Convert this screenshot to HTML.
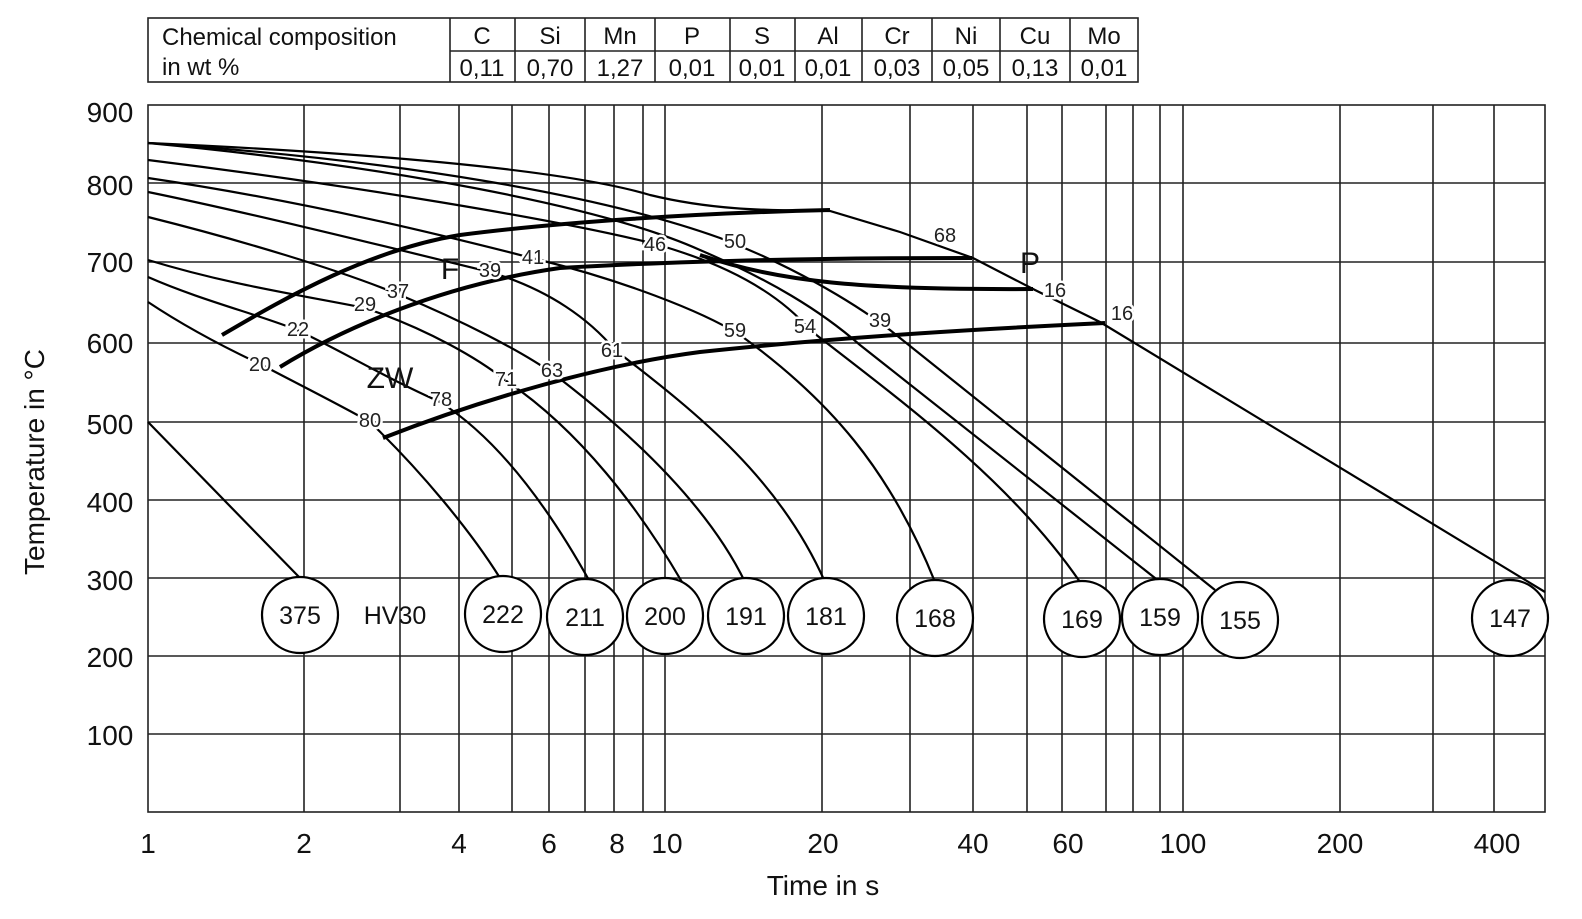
<!DOCTYPE html>
<html><head><meta charset="utf-8"><style>
html,body{margin:0;padding:0;background:#fff;}
svg{display:block;font-family:"Liberation Sans",Arial,sans-serif;}
.g{stroke:#222;stroke-width:1.6;fill:none}
.c{stroke:#000;stroke-width:2.2;fill:none}
.t{stroke:#000;stroke-width:4;fill:none}
.n{font-size:20px;fill:#222;paint-order:stroke;stroke:#fff;stroke-width:5px;text-anchor:middle}
.k{font-size:28px;fill:#111;text-anchor:middle}
.h{font-size:25px;fill:#111;text-anchor:middle}
</style></head><body>
<svg width="1582" height="919" viewBox="0 0 1582 919">
<!-- table -->
<g stroke="#222" stroke-width="1.6" fill="none">
<rect x="148" y="18" width="990" height="64"/>
<line x1="450" y1="51" x2="1138" y2="51"/>
<line x1="450" y1="18" x2="450" y2="82"/><line x1="515" y1="18" x2="515" y2="82"/><line x1="585" y1="18" x2="585" y2="82"/><line x1="655" y1="18" x2="655" y2="82"/><line x1="730" y1="18" x2="730" y2="82"/><line x1="795" y1="18" x2="795" y2="82"/><line x1="862" y1="18" x2="862" y2="82"/><line x1="932" y1="18" x2="932" y2="82"/><line x1="1000" y1="18" x2="1000" y2="82"/><line x1="1070" y1="18" x2="1070" y2="82"/>
</g>
<g font-size="24" fill="#111">
<text x="162" y="45">Chemical composition</text><text x="162" y="75">in wt %</text>
</g>
<g font-size="24" fill="#111" text-anchor="middle">
<text x="482" y="44">C</text><text x="550" y="44">Si</text><text x="620" y="44">Mn</text><text x="692" y="44">P</text><text x="762" y="44">S</text><text x="828" y="44">Al</text><text x="897" y="44">Cr</text><text x="966" y="44">Ni</text><text x="1035" y="44">Cu</text><text x="1104" y="44">Mo</text>
<text x="482" y="76">0,11</text><text x="550" y="76">0,70</text><text x="620" y="76">1,27</text><text x="692" y="76">0,01</text><text x="762" y="76">0,01</text><text x="828" y="76">0,01</text><text x="897" y="76">0,03</text><text x="966" y="76">0,05</text><text x="1035" y="76">0,13</text><text x="1104" y="76">0,01</text>
</g>
<!-- grid -->
<rect x="148" y="105" width="1397" height="707" class="g"/>
<g class="g">
<line x1="148" y1="183" x2="1545" y2="183"/><line x1="148" y1="262" x2="1545" y2="262"/><line x1="148" y1="343" x2="1545" y2="343"/><line x1="148" y1="422" x2="1545" y2="422"/><line x1="148" y1="500" x2="1545" y2="500"/><line x1="148" y1="578" x2="1545" y2="578"/><line x1="148" y1="656" x2="1545" y2="656"/><line x1="148" y1="734" x2="1545" y2="734"/>
<line x1="304" y1="105" x2="304" y2="812"/><line x1="400" y1="105" x2="400" y2="812"/><line x1="459" y1="105" x2="459" y2="812"/><line x1="512" y1="105" x2="512" y2="812"/><line x1="549" y1="105" x2="549" y2="812"/><line x1="585" y1="105" x2="585" y2="812"/><line x1="614" y1="105" x2="614" y2="812"/><line x1="643" y1="105" x2="643" y2="812"/><line x1="665" y1="105" x2="665" y2="812"/><line x1="822" y1="105" x2="822" y2="812"/><line x1="910" y1="105" x2="910" y2="812"/><line x1="973" y1="105" x2="973" y2="812"/><line x1="1027" y1="105" x2="1027" y2="812"/><line x1="1062" y1="105" x2="1062" y2="812"/><line x1="1106" y1="105" x2="1106" y2="812"/><line x1="1133" y1="105" x2="1133" y2="812"/><line x1="1160" y1="105" x2="1160" y2="812"/><line x1="1183" y1="105" x2="1183" y2="812"/><line x1="1340" y1="105" x2="1340" y2="812"/><line x1="1433" y1="105" x2="1433" y2="812"/><line x1="1494" y1="105" x2="1494" y2="812"/>
</g>
<!-- axis labels -->
<g class="k">
<text x="110" y="122">900</text><text x="110" y="195">800</text><text x="110" y="272">700</text><text x="110" y="353">600</text><text x="110" y="434">500</text><text x="110" y="512">400</text><text x="110" y="590">300</text><text x="110" y="667">200</text><text x="110" y="745">100</text>
<text x="148" y="853">1</text><text x="304" y="853">2</text><text x="459" y="853">4</text><text x="549" y="853">6</text><text x="617" y="853">8</text><text x="667" y="853">10</text><text x="823" y="853">20</text><text x="973" y="853">40</text><text x="1068" y="853">60</text><text x="1183" y="853">100</text><text x="1340" y="853">200</text><text x="1497" y="853">400</text>
<text x="823" y="895">Time in s</text>
<text transform="translate(44,462) rotate(-90)">Temperature in °C</text>
</g>
<!-- cooling curves -->
<g class="c">
<path d="M148,143 C350,152 560,168 650,195 C720,212 780,210 830,211 L900,232 L973,258 L1035,290 L1100,322 L1545,592"/>
<path d="M148,143 C400,160 600,195 720,238 C790,265 850,300 890,330 L1215,590"/>
<path d="M148,143 C380,165 600,205 700,250 C770,280 820,310 860,345 L1160,582"/>
<path d="M148,160 C350,185 560,220 655,244 C730,265 780,295 810,330 C900,400 1010,480 1080,582"/>
<path d="M148,178 C330,205 480,245 540,260 C620,280 700,310 740,335 C830,400 890,470 935,582"/>
<path d="M148,192 C260,215 420,255 490,272 C550,290 590,320 615,350 C700,415 780,480 825,582"/>
<path d="M148,217 C240,240 340,270 400,295 C460,320 520,350 555,375 C640,440 710,510 745,582"/>
<path d="M148,260 C230,285 300,295 365,308 C430,330 480,360 505,380 C580,430 640,510 682,582"/>
<path d="M148,277 C200,300 260,315 297,330 C340,350 380,375 440,402 C500,440 550,510 590,582"/>
<path d="M148,302 C190,330 230,350 262,365 C300,385 340,405 370,422 C420,470 470,530 500,578"/>
<path d="M148,422 L300,578"/>
</g>
<!-- transformation lines -->
<g class="t">
<path d="M222,335 C290,295 370,250 460,235 C560,222 700,213 830,210"/>
<path d="M280,367 C340,330 440,285 560,268 C660,262 800,258 972,258"/>
<path d="M700,255 C780,282 860,290 1033,289"/>
<path d="M383,438 C480,400 600,365 700,352 C850,336 1000,328 1105,323"/>
</g>
<!-- in-chart labels -->
<g class="n">
<text x="945" y="242">68</text><text x="1055" y="297">16</text><text x="1122" y="320">16</text>
<text x="735" y="248">50</text><text x="655" y="251">46</text><text x="880" y="327">39</text><text x="805" y="333">54</text><text x="735" y="337">59</text>
<text x="533" y="264">41</text><text x="490" y="277">39</text><text x="612" y="357">61</text><text x="398" y="298">37</text><text x="552" y="377">63</text>
<text x="365" y="311">29</text><text x="506" y="386">71</text><text x="298" y="336">22</text><text x="441" y="406">78</text><text x="260" y="371">20</text><text x="370" y="427">80</text>
</g>
<g font-size="30" fill="#111" text-anchor="middle">
<text x="450" y="279">F</text><text x="1030" y="273">P</text><text x="390" y="388">ZW</text>
</g>
<!-- hardness circles -->
<g fill="#fff" stroke="#000" stroke-width="2.2">
<circle cx="300" cy="615" r="38"/><circle cx="503" cy="614" r="38"/><circle cx="585" cy="617" r="38"/><circle cx="665" cy="616" r="38"/><circle cx="746" cy="616" r="38"/><circle cx="826" cy="616" r="38"/><circle cx="935" cy="618" r="38"/><circle cx="1082" cy="619" r="38"/><circle cx="1160" cy="617" r="38"/><circle cx="1240" cy="620" r="38"/><circle cx="1510" cy="618" r="38"/>
</g>
<g class="h">
<text x="300" y="624">375</text><text x="503" y="623">222</text><text x="585" y="626">211</text><text x="665" y="625">200</text><text x="746" y="625">191</text><text x="826" y="625">181</text><text x="935" y="627">168</text><text x="1082" y="628">169</text><text x="1160" y="626">159</text><text x="1240" y="629">155</text><text x="1510" y="627">147</text>
<text x="395" y="624">HV30</text>
</g>
</svg>
</body></html>
